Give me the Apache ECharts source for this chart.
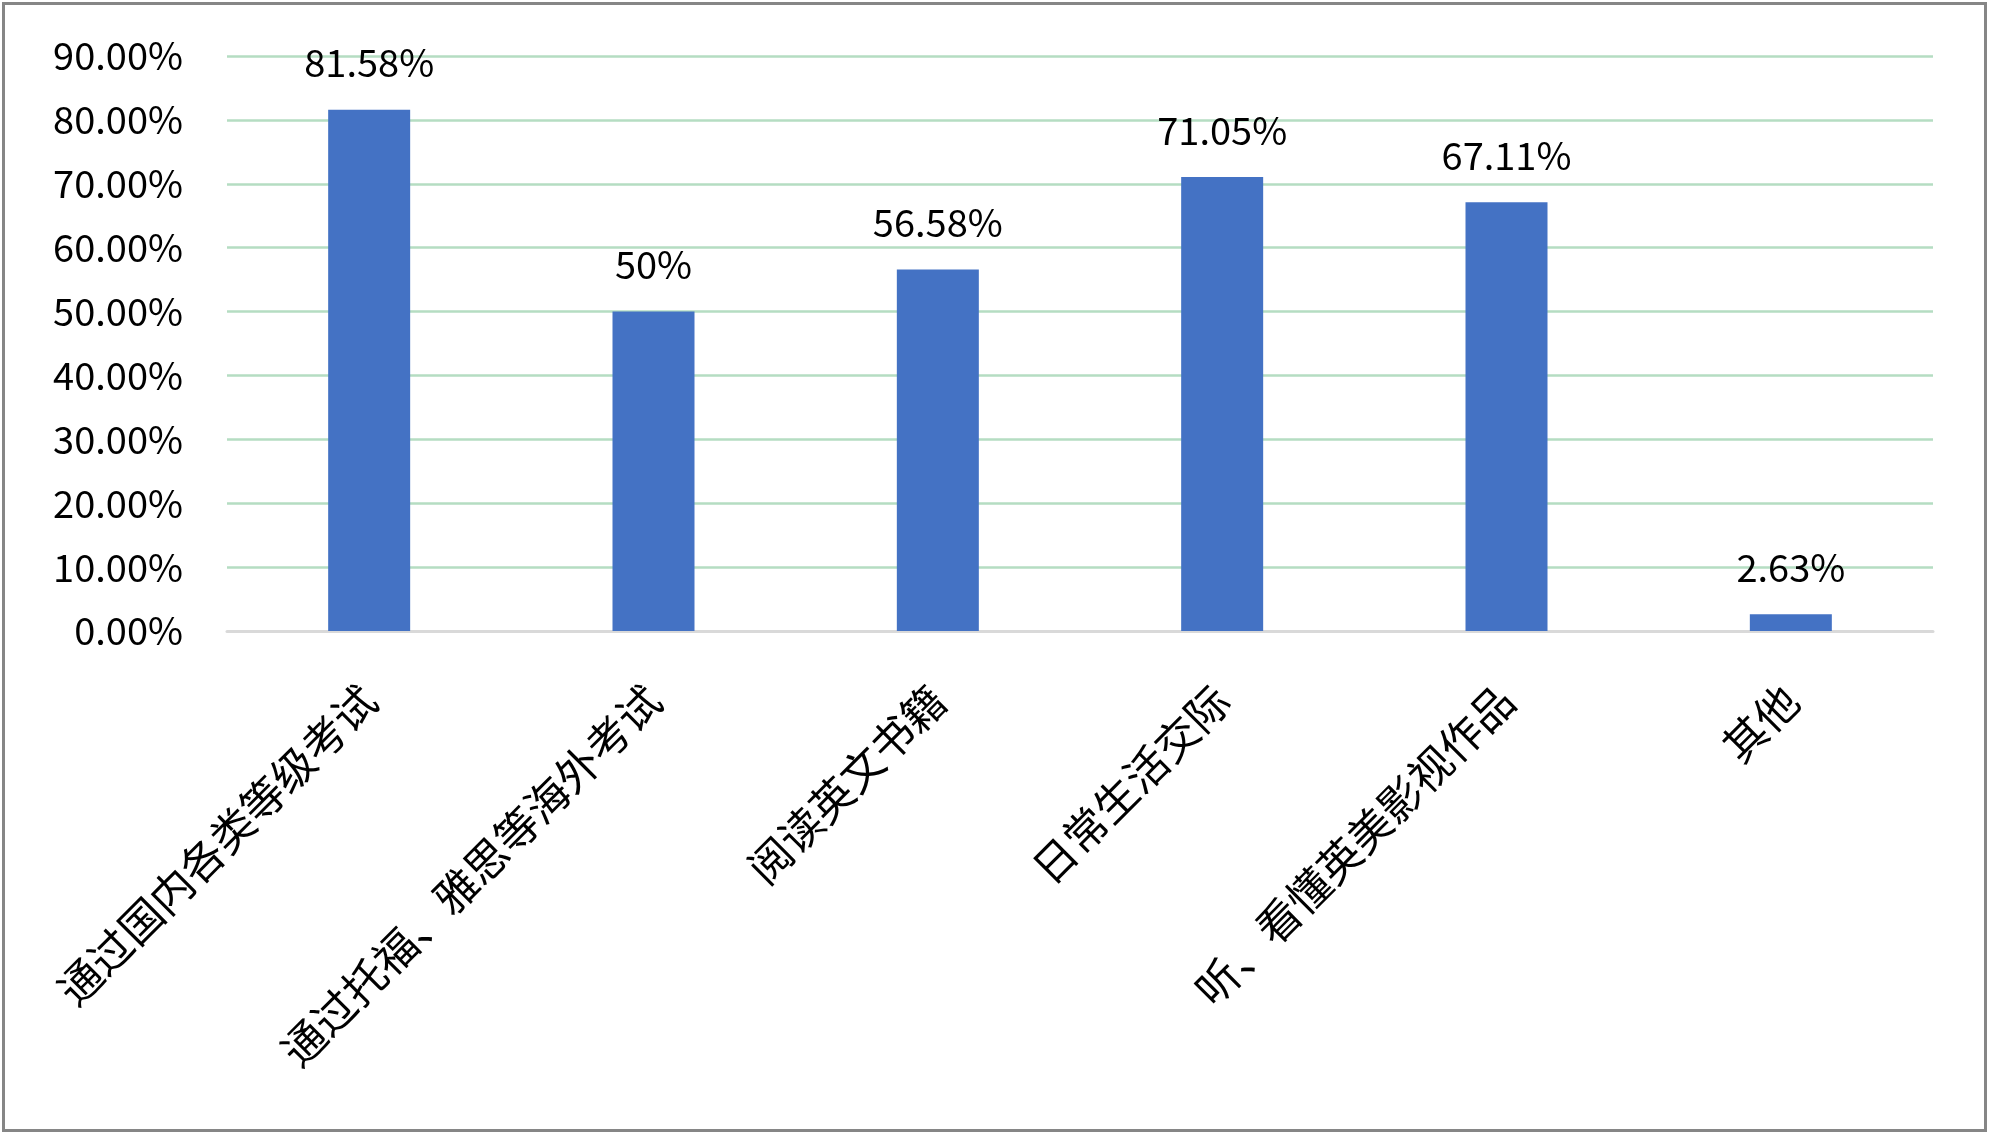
<!DOCTYPE html>
<html>
<head>
<meta charset="utf-8">
<style>
html,body{margin:0;padding:0;background:#fff;}
#chart{width:1999px;height:1144px;}
</style>
<script src="https://cdn.jsdelivr.net/npm/echarts@6/dist/echarts.min.js"></script>
</head>
<body>
<div id="chart"></div>
<script>
const categories = ['通过国内各类等级考试', '通过托福、雅思等海外考试', '阅读英文书籍', '日常生活交际', '听、看懂英美影视作品', '其他'];
const values = [81.58, 50, 56.58, 71.05, 67.11, 2.63];
const valueLabels = ['81.58%', '50%', '56.58%', '71.05%', '67.11%', '2.63%'];
const yMin = 0, yMax = 90, yStep = 10;

const FONT = '"Noto Sans CJK SC", "Noto Sans", sans-serif';
const chart = echarts.init(document.getElementById('chart'));
chart.setOption({
  backgroundColor: '#ffffff',
  animation: false,
  grid: { left: 227, right: 66, top: 56, bottom: 513, containLabel: false },
  xAxis: {
    type: 'category',
    data: categories,
    axisTick: { show: false },
    axisLine: { lineStyle: { color: '#D9D9D9', width: 3 } },
    axisLabel: { interval: 0, rotate: 45, margin: 62, fontSize: 43, color: '#000', fontFamily: FONT }
  },
  yAxis: {
    type: 'value',
    min: yMin, max: yMax, interval: yStep,
    axisLine: { show: false },
    axisTick: { show: false },
    splitLine: { lineStyle: { color: '#B5DDC2', width: 2.5 } },
    axisLabel: { margin: 44, fontSize: 38, color: '#000', fontFamily: FONT,
      formatter: v => v.toFixed(2) + '%' }
  },
  series: [{
    type: 'bar',
    data: values,
    barWidth: 82,
    itemStyle: { color: '#4472C4' },
    label: {
      show: true, position: 'top', distance: 28,
      fontSize: 38, color: '#000', fontFamily: FONT,
      formatter: p => valueLabels[p.dataIndex]
    }
  }],
  graphic: [{
    type: 'rect',
    shape: { x: 3.5, y: 3.5, width: 1982, height: 1127 },
    style: { fill: 'none', stroke: '#868686', lineWidth: 3 },
    silent: true
  }]
});
</script>
</body>
</html>
